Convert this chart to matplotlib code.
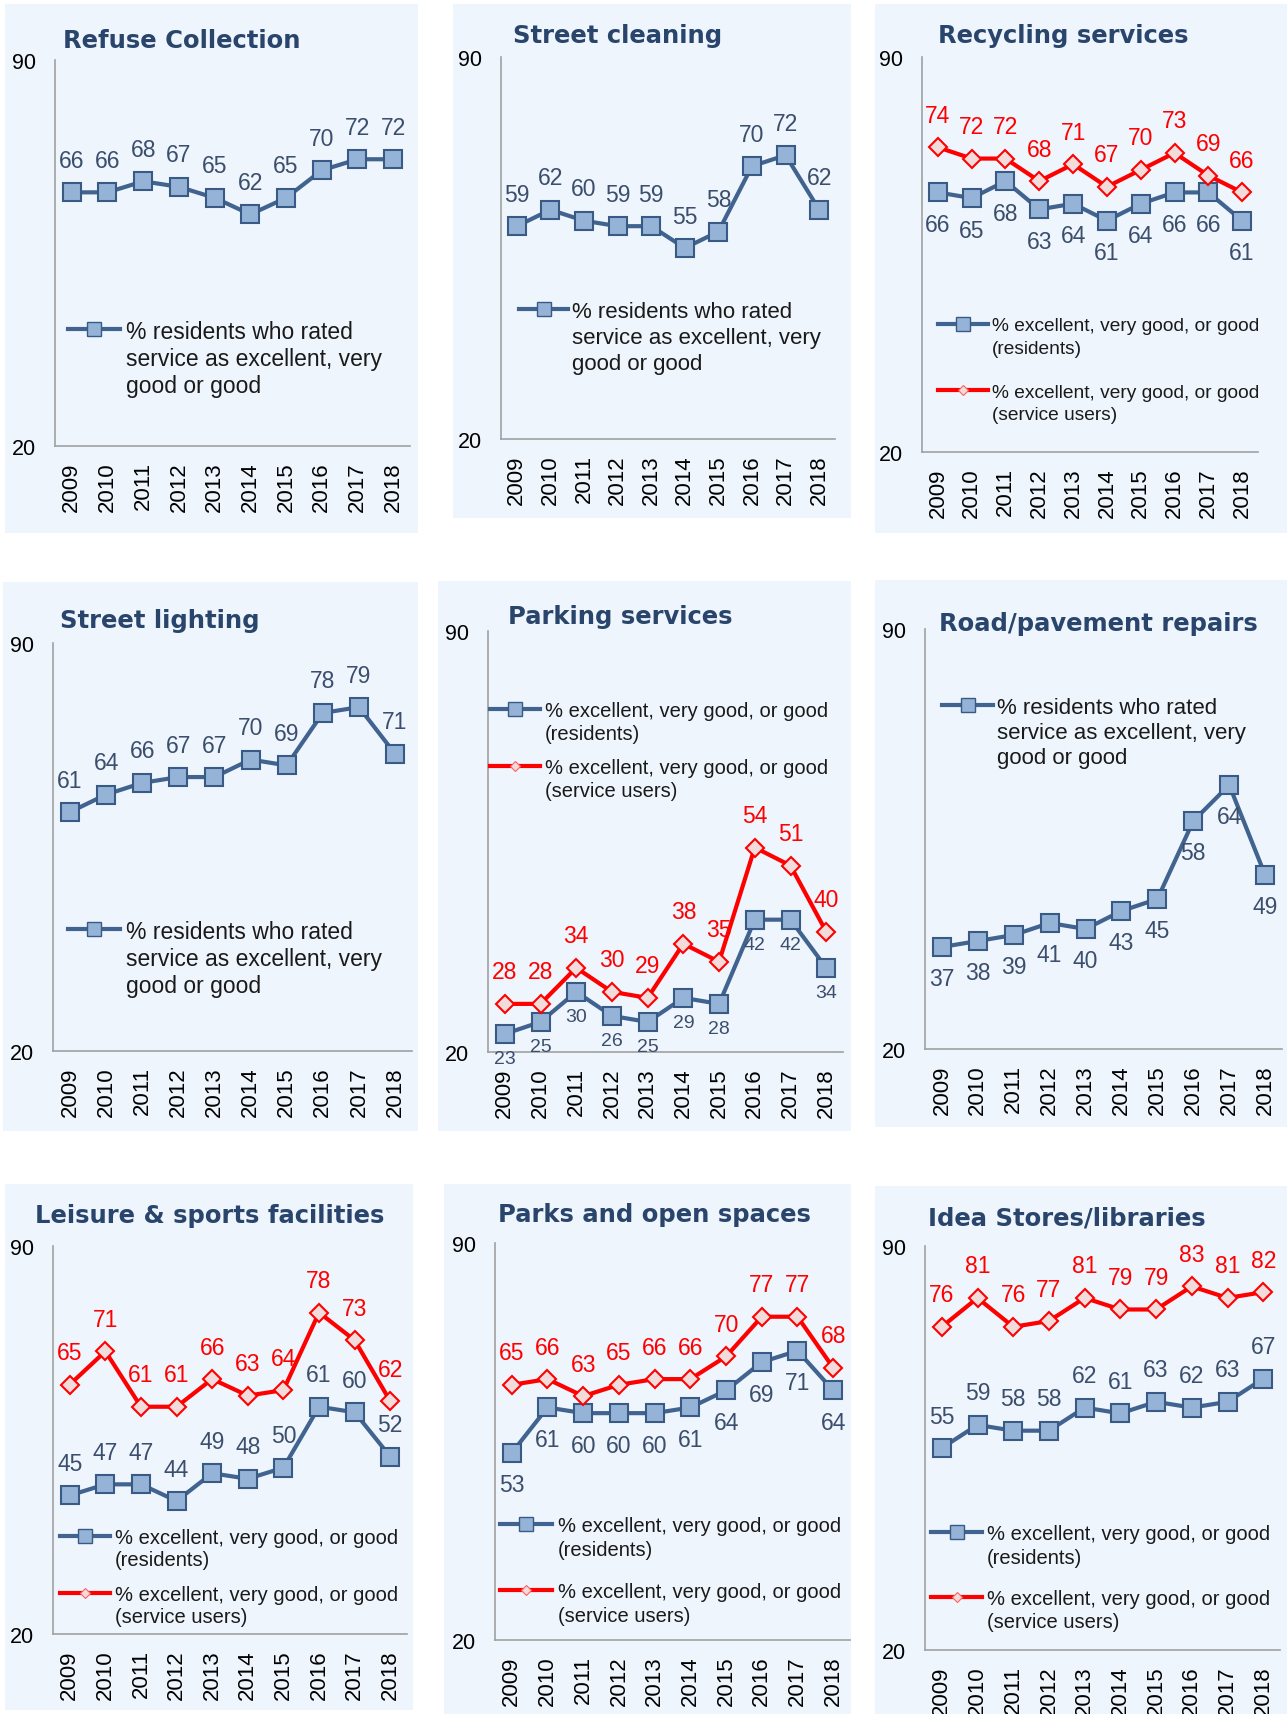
import matplotlib.pyplot as plt
from matplotlib.patches import Rectangle
from matplotlib.lines import Line2D

W, H = 1287, 1715

years = ['2009', '2010', '2011', '2012', '2013', '2014', '2015', '2016', '2017', '2018']

refuse = [66, 66, 68, 67, 65, 62, 65, 70, 72, 72]
cleaning = [59, 62, 60, 59, 59, 55, 58, 70, 72, 62]
recyclingRes = [66, 65, 68, 63, 64, 61, 64, 66, 66, 61]
recyclingUsers = [74, 72, 72, 68, 71, 67, 70, 73, 69, 66]
lighting = [61, 64, 66, 67, 67, 70, 69, 78, 79, 71]
parkingRes = [23, 25, 30, 26, 25, 29, 28, 42, 42, 34]
parkingUsers = [28, 28, 34, 30, 29, 38, 35, 54, 51, 40]
road = [37, 38, 39, 41, 40, 43, 45, 58, 64, 49]
leisureRes = [45, 47, 47, 44, 49, 48, 50, 61, 60, 52]
leisureUsers = [65, 71, 61, 61, 66, 63, 64, 78, 73, 62]
parksRes = [53, 61, 60, 60, 60, 61, 64, 69, 71, 64]
parksUsers = [65, 66, 63, 65, 66, 66, 70, 77, 77, 68]
ideaRes = [55, 59, 58, 58, 62, 61, 63, 62, 63, 67]
ideaUsers = [76, 81, 76, 77, 81, 79, 79, 83, 81, 82]

singleLabel = ['% residents who rated', 'service as excellent, very', 'good or good']
resLabel = ['% excellent, very good, or good', '(residents)']
userLabel = ['% excellent, very good, or good', '(service users)']

blueLine = '#41638F'
blueFace = '#95B3D7'
blueEdge = '#3A5A86'
blueText = '#3B4E6D'
redLine = '#FF0000'
redFace = '#F2DCDB'
titleColor = '#2A456C'
bgColor = '#EEF5FD'
spineColor = '#A0A0A0'

plt.rcParams['font.family'] = ['Liberation Sans', 'DejaVu Sans']

styles = {
    'res': dict(color=blueLine, lw=3, marker='s', ms=13, mfc=blueFace, mec=blueEdge, mew=1.5),
    'users': dict(color=redLine, lw=3, marker='D', ms=9, mfc=redFace, mec=redLine, mew=1.5),
}
legendStyles = {
    'res': dict(color=blueLine, lw=3, marker='s', ms=10, mfc=blueFace, mec=blueEdge, mew=1),
    'users': dict(color=redLine, lw=3, marker='D', ms=5, mfc=redFace, mec='#FF6060', mew=0.8),
}

# series: (values, kind, label offset in pt, label fontsize)
# legend: (x1, x2, textX, fontsize, [(kind, firstLineY, lineStep, lines)])
panels = [
    {'title': 'Refuse Collection', 'bg': (5, 5, 418, 534), 'ax': (55, 61, 410, 447), 'titleAt': (63, 41),
     'series': [(refuse, 'res', 23, 16.5)],
     'legend': (68, 120, 126, 16.5, [('res', 330, 27, singleLabel)])},
    {'title': 'Street cleaning', 'bg': (453, 5, 851, 519), 'ax': (501, 58, 835, 440), 'titleAt': (513, 36),
     'series': [(cleaning, 'res', 23, 16.5)],
     'legend': (519, 568, 572, 16, [('res', 310, 26, singleLabel)])},
    {'title': 'Recycling services', 'bg': (875, 5, 1287, 534), 'ax': (922, 58, 1258, 453), 'titleAt': (938, 36),
     'series': [(recyclingRes, 'res', -23, 16.5), (recyclingUsers, 'users', 23, 16.5)],
     'legend': (938, 988, 992, 13.8, [('res', 325, 23, resLabel), ('users', 391, 23, userLabel)])},
    {'title': 'Street lighting', 'bg': (3, 583, 418, 1132), 'ax': (53, 644, 412, 1052), 'titleAt': (60, 621),
     'series': [(lighting, 'res', 23, 16.5)],
     'legend': (68, 120, 126, 16.5, [('res', 930, 27, singleLabel)])},
    {'title': 'Parking services', 'bg': (438, 582, 851, 1132), 'ax': (488, 632, 843, 1053), 'titleAt': (508, 617),
     'series': [(parkingRes, 'res', -18, 14), (parkingUsers, 'users', 23, 16.5)],
     'legend': (490, 540, 545, 14.5, [('res', 710, 23, resLabel), ('users', 767, 23, userLabel)])},
    {'title': 'Road/pavement repairs', 'bg': (875, 581, 1287, 1128), 'ax': (925, 630, 1282, 1050), 'titleAt': (939, 624),
     'series': [(road, 'res', -23, 16.5)],
     'legend': (942, 993, 997, 16, [('res', 706, 25, singleLabel)])},
    {'title': 'Leisure & sports facilities', 'bg': (5, 1185, 413, 1711), 'ax': (53, 1247, 407, 1635), 'titleAt': (35, 1216),
     'series': [(leisureRes, 'res', 23, 16.5), (leisureUsers, 'users', 23, 16.5)],
     'legend': (60, 110, 115, 14.5, [('res', 1537, 22, resLabel), ('users', 1594, 22, userLabel)])},
    {'title': 'Parks and open spaces', 'bg': (444, 1185, 851, 1715), 'ax': (495, 1244, 850, 1641), 'titleAt': (498, 1215),
     'series': [(parksRes, 'res', -23, 16.5), (parksUsers, 'users', 23, 16.5)],
     'legend': (500, 552, 558, 14.5, [('res', 1525, 24, resLabel), ('users', 1591, 23, userLabel)])},
    {'title': 'Idea Stores/libraries', 'bg': (875, 1187, 1287, 1715), 'ax': (925, 1247, 1280, 1651), 'titleAt': (928, 1219),
     'series': [(ideaRes, 'res', 23, 16.5), (ideaUsers, 'users', 23, 16.5)],
     'legend': (931, 982, 987, 14.5, [('res', 1533, 23, resLabel), ('users', 1598, 23, userLabel)])},
]


def fx(x):
    return x / W


def fy(y):
    return 1 - y / H


fig = plt.figure(figsize=(W / 100, H / 100), dpi=100)

for p in panels:
    l, t, r, b = p['bg']
    fig.add_artist(Rectangle((fx(l), fy(b)), (r - l) / W, (b - t) / H, transform=fig.transFigure,
                             facecolor=bgColor, edgecolor='none', zorder=-5))

    l, t, r, b = p['ax']
    ax = fig.add_axes([fx(l), fy(b), (r - l) / W, (b - t) / H])
    ax.patch.set_visible(False)

    for vals, kind, off, fs in p['series']:
        ax.plot(range(len(years)), vals, clip_on=False, **styles[kind])
        col = blueText if kind == 'res' else redLine
        for i, v in enumerate(vals):
            ax.annotate(str(v), (i, v), xytext=(0, off), textcoords='offset points',
                        ha='center', va='center', fontsize=fs, color=col)

    ax.set_xlim(-0.47, 9.47)
    ax.set_ylim(20, 90)
    ax.set_xticks(range(len(years)))
    ax.set_xticklabels(years, rotation=90, fontsize=16)
    ax.set_yticks([20, 90])
    ax.set_yticklabels(['20', '90'], fontsize=15.5)
    ax.tick_params(axis='x', length=0, pad=11)
    ax.tick_params(axis='y', length=0, pad=14)
    for s in ['top', 'right']:
        ax.spines[s].set_visible(False)
    for s in ['left', 'bottom']:
        ax.spines[s].set_color(spineColor)
        ax.spines[s].set_linewidth(1.2)

    tx, ty = p['titleAt']
    fig.text(fx(tx), fy(ty), p['title'], fontsize=17.5, fontweight='bold', color=titleColor,
             family='DejaVu Sans', ha='left', va='center')

    x1, x2, textX, lfs, entries = p['legend']
    for kind, y0, step, lines in entries:
        mid = (x1 + x2) / 2
        fig.add_artist(Line2D([fx(x1), fx(mid), fx(x2)], [fy(y0)] * 3, transform=fig.transFigure,
                              markevery=[1], **legendStyles[kind]))
        for j, line in enumerate(lines):
            fig.text(fx(textX), fy(y0 + j * step), line, fontsize=lfs, color='#1A1A1A',
                     ha='left', va='center_baseline')

fig.savefig('out.png', dpi=100)
